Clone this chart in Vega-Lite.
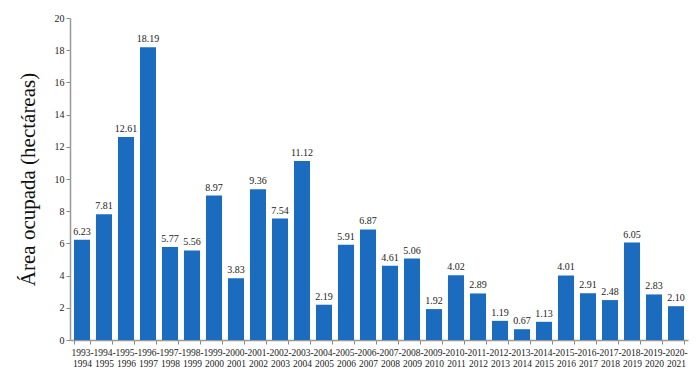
{
  "$schema": "https://vega.github.io/schema/vega-lite/v6.json",
  "width": 618,
  "height": 322,
  "autosize": "none",
  "padding": {"left": 70, "top": 18, "right": 12, "bottom": 37},
  "background": "white",
  "config": {
    "view": {"stroke": null},
    "font": "Liberation Serif",
    "axis": {"labelFont": "Liberation Serif", "titleFont": "Liberation Serif"},
    "text": {"font": "Liberation Serif"}
  },
  "data": {
    "values": [
      {"periodo": "1993-1994", "area": 6.23},
      {"periodo": "1994-1995", "area": 7.81},
      {"periodo": "1995-1996", "area": 12.61},
      {"periodo": "1996-1997", "area": 18.19},
      {"periodo": "1997-1998", "area": 5.77},
      {"periodo": "1998-1999", "area": 5.56},
      {"periodo": "1999-2000", "area": 8.97},
      {"periodo": "2000-2001", "area": 3.83},
      {"periodo": "2001-2002", "area": 9.36},
      {"periodo": "2002-2003", "area": 7.54},
      {"periodo": "2003-2004", "area": 11.12},
      {"periodo": "2004-2005", "area": 2.19},
      {"periodo": "2005-2006", "area": 5.91},
      {"periodo": "2006-2007", "area": 6.87},
      {"periodo": "2007-2008", "area": 4.61},
      {"periodo": "2008-2009", "area": 5.06},
      {"periodo": "2009-2010", "area": 1.92},
      {"periodo": "2010-2011", "area": 4.02},
      {"periodo": "2011-2012", "area": 2.89},
      {"periodo": "2012-2013", "area": 1.19},
      {"periodo": "2013-2014", "area": 0.67},
      {"periodo": "2014-2015", "area": 1.13},
      {"periodo": "2015-2016", "area": 4.01},
      {"periodo": "2016-2017", "area": 2.91},
      {"periodo": "2017-2018", "area": 2.48},
      {"periodo": "2018-2019", "area": 6.05},
      {"periodo": "2019-2020", "area": 2.83},
      {"periodo": "2020-2021", "area": 2.10}
    ]
  },
  "encoding": {
    "x": {
      "field": "periodo",
      "type": "nominal",
      "sort": null,
      "scale": {"paddingInner": 0.27, "paddingOuter": 0.18},
      "axis": {
        "title": null,
        "labelAngle": 0,
        "labelExpr": "[slice(datum.label, 0, 5), slice(datum.label, 5)]",
        "labelOverlap": false,
        "labelBound": false,
        "labelFont": "Liberation Serif",
        "labelFontSize": 9.5,
        "labelColor": "#222222",
        "labelPadding": 3,
        "tickBand": "extent",
        "tickSize": 4,
        "tickColor": "#888888",
        "domainColor": "#999999",
        "domainWidth": 1.5
      }
    },
    "y": {
      "field": "area",
      "type": "quantitative",
      "scale": {"domain": [0, 20]},
      "axis": {
        "title": "Área ocupada (hectáreas)",
        "titleFont": "Liberation Serif",
        "titleFontSize": 21,
        "titleFontWeight": "normal",
        "titleColor": "#111111",
        "titlePadding": 16,
        "values": [0, 2, 4, 6, 8, 10, 12, 14, 16, 18, 20],
        "grid": false,
        "labelFont": "Liberation Serif",
        "labelFontSize": 10,
        "labelColor": "#222222",
        "tickSize": 4,
        "tickColor": "#888888",
        "domainColor": "#999999",
        "domainWidth": 1.5
      }
    }
  },
  "layer": [
    {"mark": {"type": "bar", "color": "#1b6cbf"}},
    {
      "mark": {"type": "text", "dy": -8, "font": "Liberation Serif", "fontSize": 10, "color": "#222222"},
      "encoding": {"text": {"field": "area", "type": "quantitative", "format": ".2f"}}
    }
  ]
}
